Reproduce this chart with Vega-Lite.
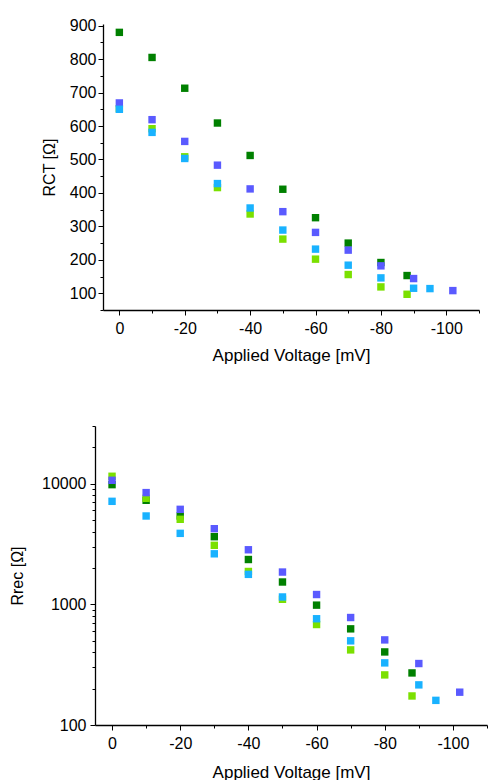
{
  "$schema": "https://vega.github.io/schema/vega-lite/v6.json",
  "padding": {"left": 9, "top": 17, "right": 0, "bottom": 0},
  "spacing": 55,
  "config": {
    "view": {"stroke": null},
    "font": "Liberation Sans",
    "axis": {
      "grid": false,
      "domainColor": "#000000",
      "domainWidth": 1.3,
      "tickColor": "#000000",
      "tickWidth": 1,
      "labelColor": "#000000",
      "labelFont": "Liberation Sans",
      "labelFontSize": 16,
      "labelOverlap": false,
      "labelFlush": false,
      "labelBound": false,
      "titleColor": "#000000",
      "titleFont": "Liberation Sans",
      "titleFontWeight": "normal",
      "titleFontSize": 17
    }
  },
  "datasets": {
    "rct": [
      {"V": 0, "R": 880, "s": "A"}, {"V": -10, "R": 805, "s": "A"}, {"V": -20, "R": 713, "s": "A"}, {"V": -30, "R": 609, "s": "A"}, {"V": -40, "R": 512, "s": "A"}, {"V": -50, "R": 411, "s": "A"}, {"V": -60, "R": 326, "s": "A"}, {"V": -70, "R": 250, "s": "A"}, {"V": -80, "R": 192, "s": "A"}, {"V": -88, "R": 153, "s": "A"},
      {"V": 0, "R": 652, "s": "B"}, {"V": -10, "R": 592, "s": "B"}, {"V": -20, "R": 508, "s": "B"}, {"V": -30, "R": 416, "s": "B"}, {"V": -40, "R": 337, "s": "B"}, {"V": -50, "R": 262, "s": "B"}, {"V": -60, "R": 202, "s": "B"}, {"V": -70, "R": 156, "s": "B"}, {"V": -80, "R": 119, "s": "B"}, {"V": -88, "R": 97, "s": "B"},
      {"V": 0, "R": 669, "s": "C"}, {"V": -10, "R": 619, "s": "C"}, {"V": -20, "R": 554, "s": "C"}, {"V": -30, "R": 483, "s": "C"}, {"V": -40, "R": 412, "s": "C"}, {"V": -50, "R": 344, "s": "C"}, {"V": -60, "R": 282, "s": "C"}, {"V": -70, "R": 229, "s": "C"}, {"V": -80, "R": 182, "s": "C"}, {"V": -90, "R": 144, "s": "C"}, {"V": -102, "R": 108, "s": "C"},
      {"V": 0, "R": 650, "s": "D"}, {"V": -10, "R": 581, "s": "D"}, {"V": -20, "R": 503, "s": "D"}, {"V": -30, "R": 428, "s": "D"}, {"V": -40, "R": 355, "s": "D"}, {"V": -50, "R": 289, "s": "D"}, {"V": -60, "R": 232, "s": "D"}, {"V": -70, "R": 184, "s": "D"}, {"V": -80, "R": 146, "s": "D"}, {"V": -90, "R": 115, "s": "D"}, {"V": -95, "R": 114, "s": "D"}
    ],
    "rrec": [
      {"V": 0, "R": 9800, "s": "A"}, {"V": -10, "R": 7270, "s": "A"}, {"V": -20, "R": 5390, "s": "A"}, {"V": -30, "R": 3630, "s": "A"}, {"V": -40, "R": 2350, "s": "A"}, {"V": -50, "R": 1530, "s": "A"}, {"V": -60, "R": 984, "s": "A"}, {"V": -70, "R": 626, "s": "A"}, {"V": -80, "R": 403, "s": "A"}, {"V": -88, "R": 270, "s": "A"},
      {"V": 0, "R": 11500, "s": "B"}, {"V": -10, "R": 7550, "s": "B"}, {"V": -20, "R": 5060, "s": "B"}, {"V": -30, "R": 3080, "s": "B"}, {"V": -40, "R": 1870, "s": "B"}, {"V": -50, "R": 1100, "s": "B"}, {"V": -60, "R": 680, "s": "B"}, {"V": -70, "R": 419, "s": "B"}, {"V": -80, "R": 260, "s": "B"}, {"V": -88, "R": 174, "s": "B"},
      {"V": 0, "R": 10650, "s": "C"}, {"V": -10, "R": 8420, "s": "C"}, {"V": -20, "R": 6120, "s": "C"}, {"V": -30, "R": 4230, "s": "C"}, {"V": -40, "R": 2830, "s": "C"}, {"V": -50, "R": 1850, "s": "C"}, {"V": -60, "R": 1205, "s": "C"}, {"V": -70, "R": 777, "s": "C"}, {"V": -80, "R": 507, "s": "C"}, {"V": -90, "R": 323, "s": "C"}, {"V": -102, "R": 187, "s": "C"},
      {"V": 0, "R": 7130, "s": "D"}, {"V": -10, "R": 5390, "s": "D"}, {"V": -20, "R": 3870, "s": "D"}, {"V": -30, "R": 2620, "s": "D"}, {"V": -40, "R": 1770, "s": "D"}, {"V": -50, "R": 1150, "s": "D"}, {"V": -60, "R": 759, "s": "D"}, {"V": -70, "R": 498, "s": "D"}, {"V": -80, "R": 327, "s": "D"}, {"V": -90, "R": 215, "s": "D"}, {"V": -95, "R": 160, "s": "D"}
    ]
  },
  "vconcat": [
    {
      "width": 384,
      "height": 286,
      "data": {"name": "rct"},
      "mark": {"type": "square", "size": 55, "opacity": 1},
      "encoding": {
        "x": {
          "field": "V", "type": "quantitative",
          "scale": {"domain": [5, -110], "range": [8, 384], "nice": false, "zero": false},
          "axis": {
            "title": "Applied Voltage [mV]",
            "values": [0, -10, -20, -30, -40, -50, -60, -70, -80, -90, -100, -110],
            "labelExpr": "datum.value % 20 === 0 ? '' + datum.value : ''",
            "tickSize": {"condition": {"test": "datum.value % 20 !== 0", "value": 3}, "value": 5},
            "labelPadding": 5,
            "titlePadding": 11
          }
        },
        "y": {
          "field": "R", "type": "quantitative",
          "scale": {"domain": [50, 905], "nice": false, "zero": false},
          "axis": {
            "title": "RCT [Ω]",
            "offset": -8,
            "titleFontSize": 16,
            "values": [50, 100, 150, 200, 250, 300, 350, 400, 450, 500, 550, 600, 650, 700, 750, 800, 850, 900],
            "labelExpr": "datum.value % 100 === 0 ? '' + datum.value : ''",
            "tickSize": {"condition": {"test": "datum.value % 100 !== 0", "value": 3}, "value": 5},
            "labelPadding": 2,
            "titlePadding": 12
          }
        },
        "color": {
          "field": "s", "type": "nominal",
          "scale": {"domain": ["A", "B", "C", "D"], "range": ["#008000", "#7BE000", "#5A5AFF", "#19B2FF"]},
          "legend": null
        }
      }
    },
    {
      "width": 392,
      "height": 299,
      "data": {"name": "rrec"},
      "mark": {"type": "square", "size": 55, "opacity": 1},
      "encoding": {
        "x": {
          "field": "V", "type": "quantitative",
          "scale": {"domain": [5, -110], "nice": false, "zero": false},
          "axis": {
            "title": "Applied Voltage [mV]",
            "values": [0, -10, -20, -30, -40, -50, -60, -70, -80, -90, -100, -110],
            "labelExpr": "datum.value % 20 === 0 ? '' + datum.value : ''",
            "tickSize": {"condition": {"test": "datum.value % 20 !== 0", "value": 3}, "value": 5},
            "labelPadding": 5,
            "titlePadding": 13
          }
        },
        "y": {
          "field": "R", "type": "quantitative",
          "scale": {"type": "log", "domain": [100, 30000], "nice": false},
          "axis": {
            "title": "Rrec [Ω]",
            "titleFontSize": 16,
            "values": [100, 200, 300, 400, 500, 600, 700, 800, 900, 1000, 2000, 3000, 4000, 5000, 6000, 7000, 8000, 9000, 10000, 20000, 30000],
            "labelExpr": "indexof([100, 1000, 10000], datum.value) >= 0 ? '' + datum.value : ''",
            "tickSize": {"condition": {"test": "indexof([100, 1000, 10000], datum.value) < 0", "value": 3}, "value": 5},
            "labelPadding": 4,
            "titlePadding": 16
          }
        },
        "color": {
          "field": "s", "type": "nominal",
          "scale": {"domain": ["A", "B", "C", "D"], "range": ["#008000", "#7BE000", "#5A5AFF", "#19B2FF"]},
          "legend": null
        }
      }
    }
  ]
}
